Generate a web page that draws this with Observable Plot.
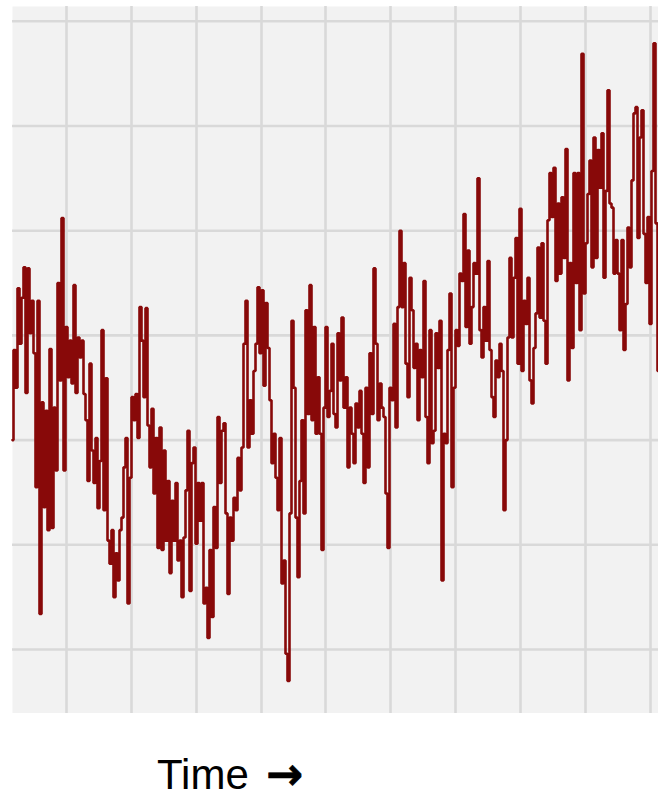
<!DOCTYPE html>
<html>
<head>
<meta charset="utf-8">
<script src="https://cdn.jsdelivr.net/npm/d3@7"></script>
<script src="https://cdn.jsdelivr.net/npm/@observablehq/plot@0.6"></script>
<style>
  html, body { margin: 0; padding: 0; background: #ffffff; }
  #wrap { position: relative; width: 658px; height: 800px; }
  #chart svg { display: block; }
  #caption {
    position: absolute; left: 157px; top: 751px;
    font-family: "Liberation Sans", Arial, sans-serif;
    font-size: 42px; line-height: normal; color: #000; white-space: nowrap;
  }
  #arrow {
    position: absolute; left: 266px; top: 748px;
    font-family: "DejaVu Sans", sans-serif;
    font-weight: 700; font-size: 44px; line-height: normal; color: #000;
    -webkit-text-stroke: 0.8px #000; white-space: nowrap;
  }
</style>
</head>
<body>
<div id="wrap">
  <div id="chart"></div>
  <div id="caption">Time</div>
  <div id="arrow">&#8594;</div>
</div>
<script>
// Series values (one sample per time step)
const values = [
  20.0, 28.6, 25.0, 34.5, 29.2, 33.6, 36.5, 24.5, 36.4, 30.2,
  33.3, 28.3, 15.5, 33.3, 3.4, 23.6, 13.6, 22.8, 11.4, 28.7,
  11.6, 23.1, 17.1, 35.0, 25.7, 41.2, 17.1, 30.8, 26.0, 29.5,
  25.4, 34.8, 24.5, 29.8, 27.9, 29.5, 24.4, 21.9, 16.1, 27.3,
  19.0, 15.9, 20.2, 13.5, 18.0, 30.5, 13.3, 25.9, 10.4, 8.2,
  11.4, 5.0, 9.2, 6.6, 11.4, 12.6, 17.4, 20.2, 4.4, 16.4,
  24.1, 21.9, 24.4, 20.2, 32.7, 29.5, 24.1, 32.6, 21.4, 17.4,
  23.0, 14.9, 20.2, 9.7, 21.2, 9.5, 19.0, 10.4, 16.1, 7.3,
  14.2, 10.4, 15.9, 8.5, 10.4, 5.0, 10.7, 15.2, 20.9, 5.6,
  17.8, 19.3, 10.1, 15.9, 12.3, 15.9, 4.4, 5.9, 1.1, 9.5,
  3.1, 13.6, 9.7, 22.2, 15.9, 20.9, 21.6, 13.0, 5.3, 12.6,
  10.4, 14.5, 13.3, 18.3, 15.2, 19.3, 29.2, 33.3, 19.3, 23.8,
  20.6, 26.6, 29.2, 34.6, 28.3, 34.3, 25.2, 33.1, 28.8, 23.8,
  17.8, 20.6, 16.4, 13.3, 20.2, 6.3, 8.5, -0.4, -3.0, 13.0,
  31.4, 25.0, 12.6, 6.9, 16.1, 21.9, 13.0, 32.4, 22.5, 34.8,
  21.9, 30.8, 20.6, 26.0, 20.6, 9.5, 23.1, 30.8, 22.2, 24.7,
  29.2, 22.5, 21.2, 30.2, 25.7, 31.7, 23.1, 26.0, 17.4, 23.1,
  20.6, 17.8, 23.5, 21.2, 24.7, 20.6, 15.9, 25.0, 17.4, 28.3,
  22.5, 36.4, 29.2, 21.9, 25.4, 23.1, 22.2, 14.9, 9.7, 25.0,
  23.8, 31.1, 21.2, 32.7, 40.0, 32.7, 36.9, 27.3, 24.1, 35.5,
  32.4, 26.9, 29.2, 21.9, 28.6, 26.0, 35.2, 22.2, 17.8, 30.5,
  19.7, 20.9, 30.2, 26.9, 31.4, 6.6, 20.6, 19.7, 28.6, 34.0,
  15.5, 25.0, 30.5, 29.0, 35.9, 35.2, 41.6, 30.8, 38.1, 29.2,
  32.7, 36.9, 35.9, 45.0, 30.5, 27.9, 32.7, 29.5, 37.1, 28.6,
  24.1, 22.2, 27.6, 26.0, 29.2, 26.6, 13.3, 20.0, 29.8, 37.4,
  29.8, 35.5, 39.3, 27.3, 42.1, 26.6, 33.3, 31.1, 35.5, 25.7,
  23.5, 28.8, 32.1, 38.4, 31.7, 38.8, 31.4, 27.3, 41.0, 45.5,
  41.3, 46.0, 35.2, 42.6, 35.9, 43.2, 37.4, 47.8, 25.7, 36.9,
  28.8, 45.5, 35.0, 45.5, 30.5, 56.9, 34.0, 38.8, 43.5, 46.7,
  36.5, 48.9, 37.4, 47.7, 44.1, 49.3, 35.5, 43.8, 53.4, 42.6,
  42.2, 35.9, 39.1, 35.9, 30.5, 39.1, 28.6, 33.0, 40.3, 36.5,
  44.8, 51.2, 51.8, 39.3, 48.9, 51.5, 39.7, 35.0, 41.3, 31.1,
  45.7, 57.9, 40.7, 26.6
];

// Grid positions (no labels are shown on the reference)
const xTicks = [27, 59.5, 92, 124.5, 156.5, 189, 221.5, 254, 286.5, 319];
const yTicks = [0, 10, 20, 30, 40, 50, 60];

const xDomain = [0, 323];
const yDomain = [-6.11, 61.41];

const chart = Plot.plot({
  width: 658,
  height: 713,
  marginLeft: 12,
  marginRight: 0,
  marginTop: 6,
  marginBottom: 0,
  x: { domain: xDomain, axis: null },
  y: { domain: yDomain, axis: null },
  style: { background: "transparent" },
  marks: [
    Plot.frame({ fill: "#f2f2f2", stroke: null }),
    Plot.gridX(xTicks, { stroke: "#d9d9d9", strokeOpacity: 1, strokeWidth: 2.6 }),
    Plot.gridY(yTicks, { stroke: "#d9d9d9", strokeOpacity: 1, strokeWidth: 2.6 }),
    Plot.line(values, {
      x: (d, i) => i,
      y: d => d,
      curve: "step",
      stroke: "#880909",
      strokeWidth: 2.6,
      strokeLinejoin: "miter"
    })
  ]
});

document.getElementById("chart").appendChild(chart);
</script>
</body>
</html>
